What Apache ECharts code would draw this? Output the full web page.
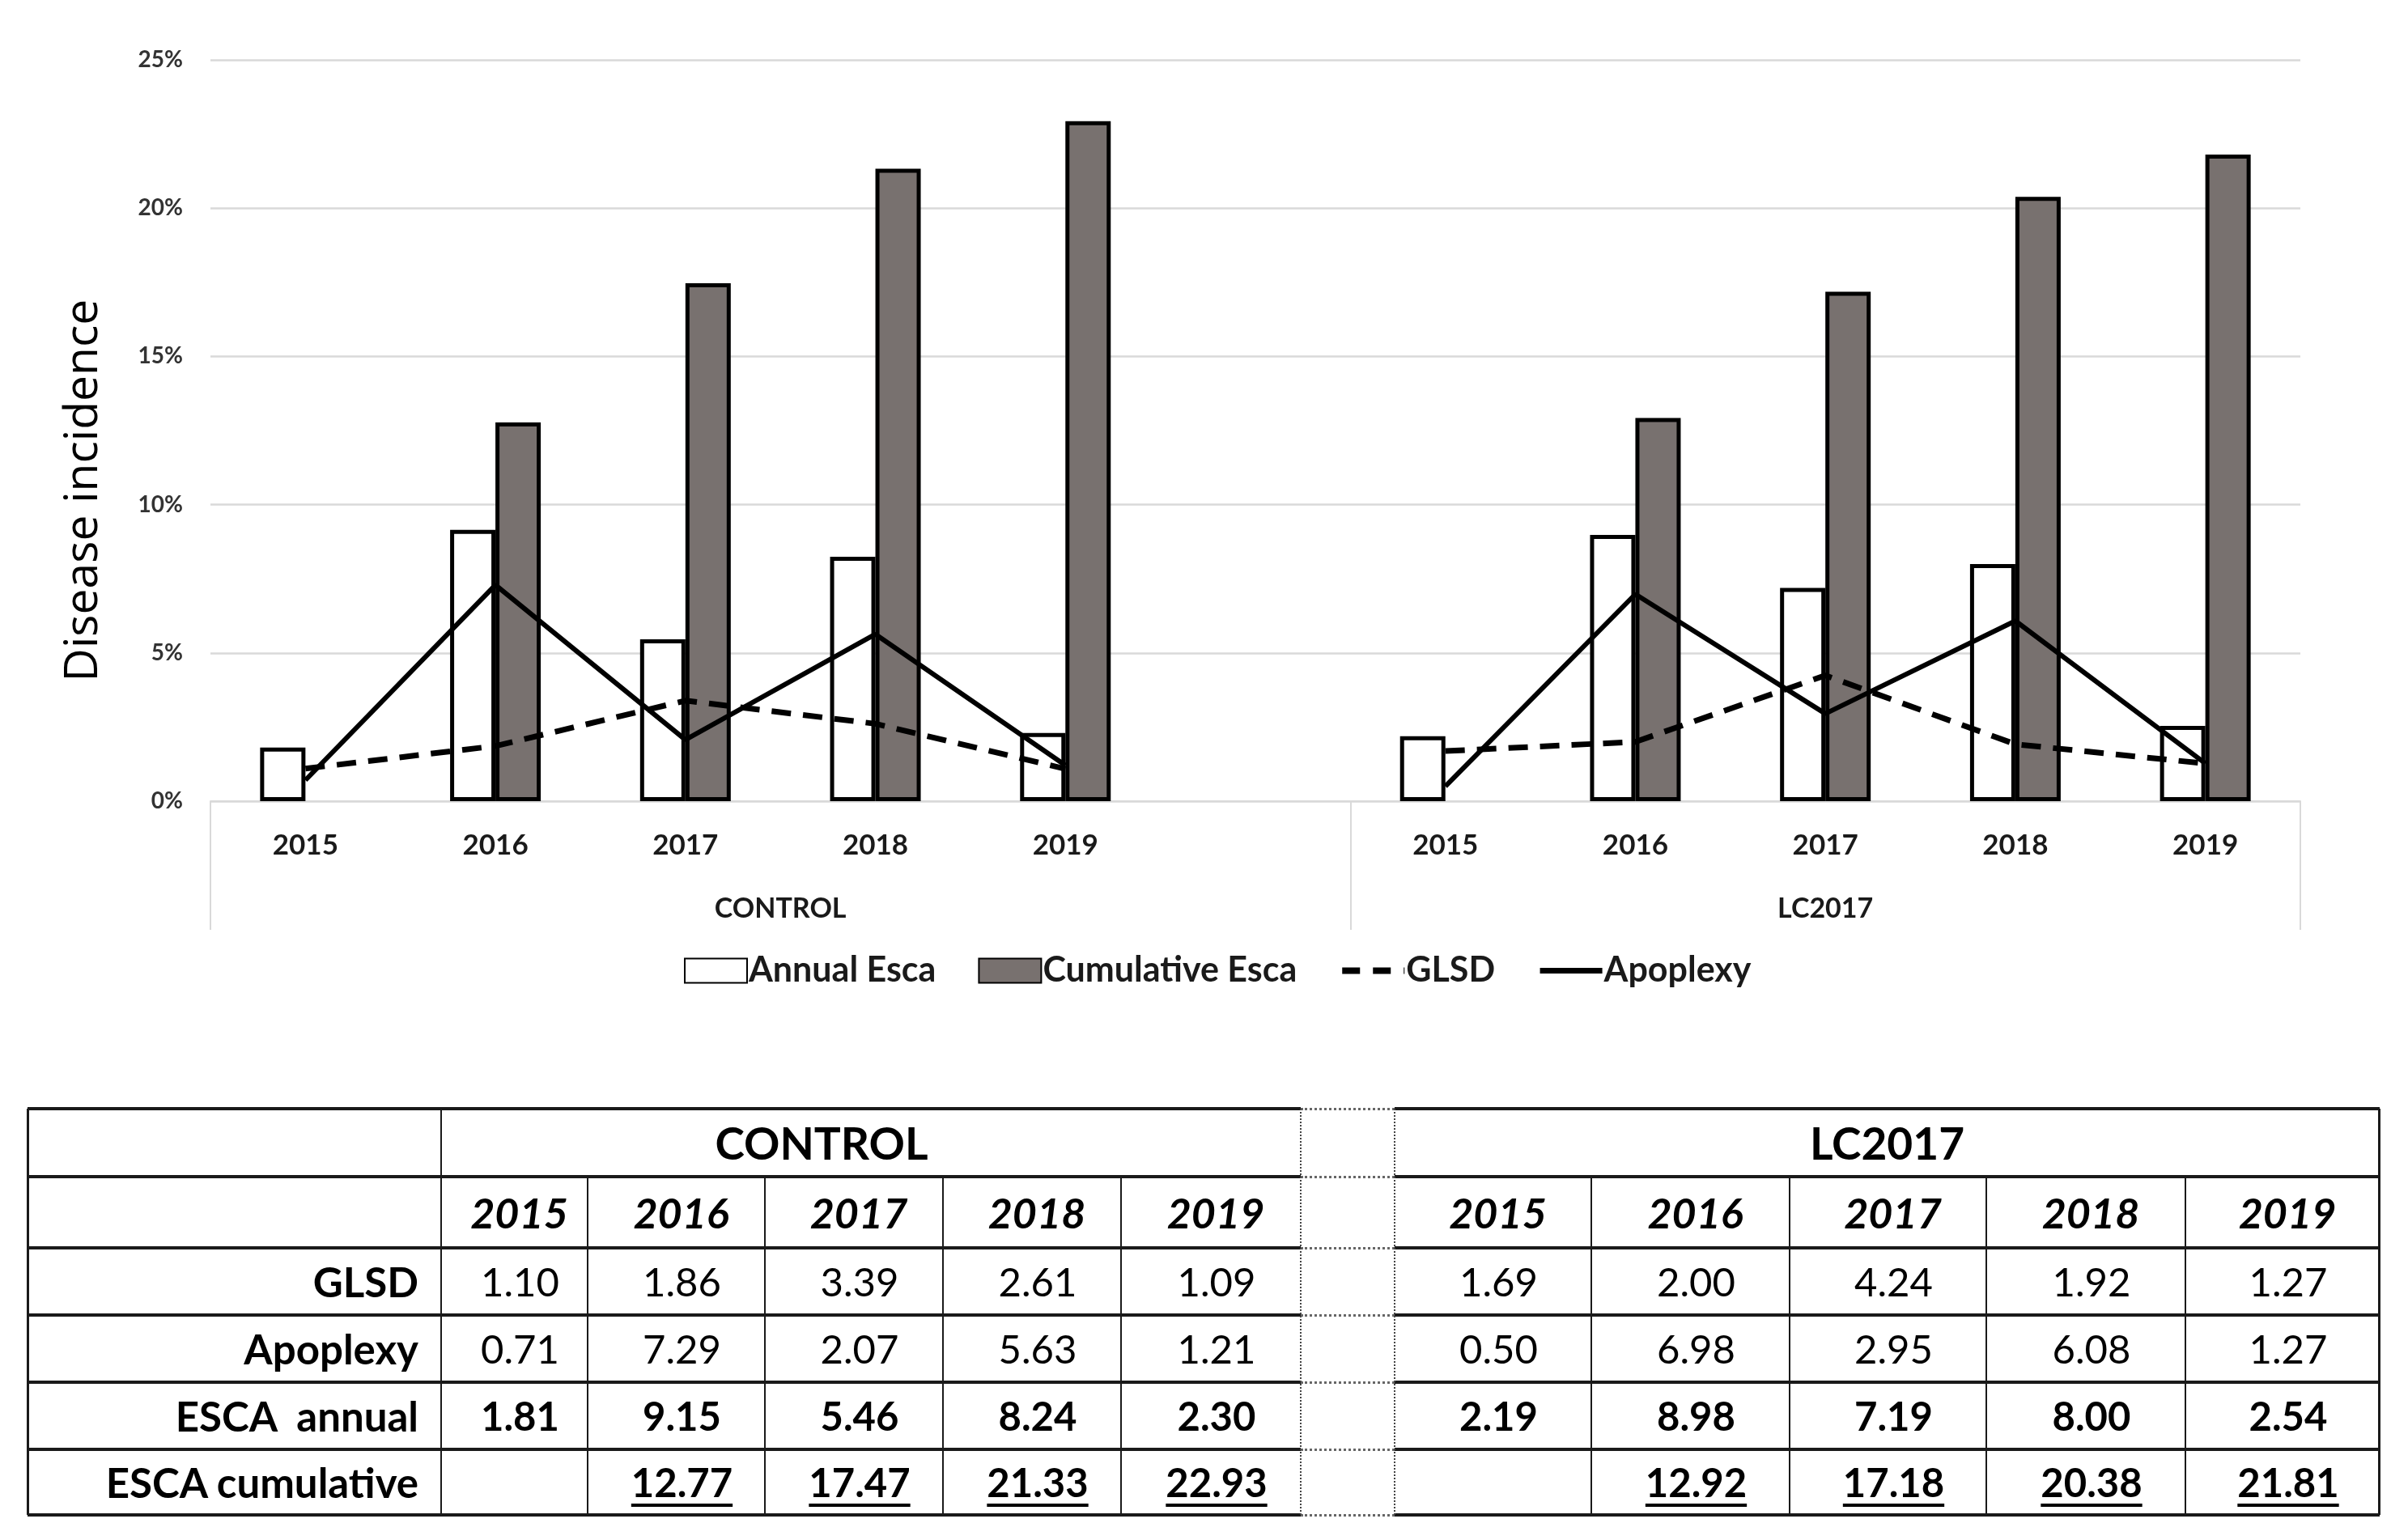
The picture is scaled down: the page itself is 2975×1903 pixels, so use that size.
<!DOCTYPE html>
<html>
<head>
<meta charset="utf-8">
<script src="https://cdn.jsdelivr.net/npm/echarts@6/dist/echarts.min.js"></script>
<style>
html,body{margin:0;padding:0;background:#fff;}
#chart{position:absolute;left:0;top:0;width:2975px;height:1903px;}
#tbl{position:absolute;left:0;top:0;width:2975px;height:1903px;font-family:Lato,"Open Sans",sans-serif;color:#000;}
.t{position:absolute;display:flex;align-items:center;white-space:pre;line-height:1;}
.ln{position:absolute;}
</style>
</head>
<body>
<div id="chart"></div>
<div id="tbl"></div>
<script>
// ---------- data ----------
const years = ['2015', '2016', '2017', '2018', '2019'];
const groups = ['CONTROL', 'LC2017'];
const yTicks = [0, 5, 10, 15, 20, 25];

const glsdControl = [1.10, 1.86, 3.39, 2.61, 1.09];
const apoplexyControl = [0.71, 7.29, 2.07, 5.63, 1.21];
const escaAnnualControl = [1.81, 9.15, 5.46, 8.24, 2.30];
const escaCumulativeControl = [null, 12.77, 17.47, 21.33, 22.93];

const glsdLC = [1.69, 2.00, 4.24, 1.92, 1.27];
const apoplexyLC = [0.50, 6.98, 2.95, 6.08, 1.27];
const escaAnnualLC = [2.19, 8.98, 7.19, 8.00, 2.54];
const escaCumulativeLC = [null, 12.92, 17.18, 20.38, 21.81];

const seriesNames = ['Annual Esca', 'Cumulative Esca', 'GLSD', 'Apoplexy'];
const rowLabels = ['GLSD', 'Apoplexy', 'ESCA  annual', 'ESCA cumulative'];
const yTitle = 'Disease incidence';

// ---------- chart ----------
const cats = years.concat([''], years);
const join = (a, b) => a.map(v => v == null ? '-' : v).concat(['-'], b.map(v => v == null ? '-' : v));

const FONT = 'Lato';
const noSymbol = {color: 'rgba(0,0,0,0)', borderColor: 'rgba(0,0,0,0)', borderWidth: 0};
const chart = echarts.init(document.getElementById('chart'), null, {renderer: 'canvas'});
chart.setOption({
  animation: false,
  backgroundColor: '#fff',
  grid: {left: 260, right: 2975 - 2842, top: 74, bottom: 1903 - 990, containLabel: false},
  legend: {
    left: 845, top: 1178, padding: 0,
    itemWidth: 77, itemHeight: 30, itemGap: 52,
    textStyle: {fontFamily: FONT, fontSize: 43, fontWeight: 'bold', color: '#1a1a1a', padding: [0, 0, 0, -3]},
    data: [
      {name: seriesNames[0], icon: 'rect'},
      {name: seriesNames[1], icon: 'rect'},
      {name: seriesNames[2], itemStyle: noSymbol, lineStyle: {color: '#000', width: 8, type: [22, 16]}},
      {name: seriesNames[3], itemStyle: noSymbol, lineStyle: {color: '#000', width: 7, type: 'solid'}}
    ]
  },
  graphic: [{
    type: 'text',
    x: 104, y: 606,
    rotation: Math.PI / 2,
    style: {text: yTitle, font: '400 57px "Open Sans"', fill: '#000', align: 'center', verticalAlign: 'middle'}
  }],
  xAxis: [{
    type: 'category',
    data: cats,
    boundaryGap: true,
    axisLine: {show: true, lineStyle: {color: '#d9d9d9', width: 2}},
    axisTick: {show: false},
    axisLabel: {fontFamily: FONT, fontSize: 35, fontWeight: 'bold', color: '#1a1a1a', margin: 37, interval: 0},
    splitLine: {show: false}
  }, {
    type: 'value',
    min: 0, max: 11,
    position: 'bottom',
    axisLine: {show: false},
    splitLine: {show: false},
    axisTick: {show: true, customValues: [0, 6, 11], length: 159, inside: false, lineStyle: {color: '#d9d9d9', width: 2}},
    axisLabel: {
      show: true, customValues: [3, 8.5], margin: 116,
      fontFamily: FONT, fontSize: 34, fontWeight: 'bold', color: '#1a1a1a',
      formatter: v => (v === 3 ? groups[0] : groups[1])
    }
  }],
  yAxis: {
    type: 'value',
    min: yTicks[0], max: yTicks[yTicks.length - 1], interval: 5,
    axisLine: {show: false},
    axisTick: {show: false},
    axisLabel: {formatter: '{value}%', fontFamily: FONT, fontSize: 28, fontWeight: 'bold', color: '#333', margin: 34},
    splitLine: {lineStyle: {color: '#d9d9d9', width: 2.5}}
  },
  series: [{
    name: seriesNames[0], type: 'bar', xAxisIndex: 0,
    data: join(escaAnnualControl, escaAnnualLC),
    barWidth: 56, barGap: '0%',
    itemStyle: {color: '#ffffff', borderColor: '#000', borderWidth: 5},
    z: 2
  }, {
    name: seriesNames[1], type: 'bar', xAxisIndex: 0,
    data: join(escaCumulativeControl, escaCumulativeLC),
    barWidth: 56, barGap: '0%',
    itemStyle: {color: '#78716f', borderColor: '#000', borderWidth: 5},
    z: 2
  }, {
    name: seriesNames[2], type: 'line', xAxisIndex: 0,
    data: join(glsdControl, glsdLC),
    symbol: 'none', connectNulls: false,
    lineStyle: {color: '#000', width: 7, type: [24, 15]},
    itemStyle: {color: '#000'},
    z: 5
  }, {
    name: seriesNames[3], type: 'line', xAxisIndex: 0,
    data: join(apoplexyControl, apoplexyLC),
    symbol: 'none', connectNulls: false,
    lineStyle: {color: '#000', width: 6},
    itemStyle: {color: '#000'},
    z: 5
  }]
});

// ---------- table ----------
const T = document.getElementById('tbl');
const colW = [511, 181, 219, 220, 220, 222, 116, 243, 245, 243, 246, 240];
const rowH = [84, 88, 83, 83, 83, 81];
const X0 = 34, Y0 = 1370;
const xs = [X0]; colW.forEach(w => xs.push(xs[xs.length - 1] + w));
const ys = [Y0]; rowH.forEach(h => ys.push(ys[ys.length - 1] + h));

function line(x, y, w, h, style) {
  const d = document.createElement('div');
  d.className = 'ln';
  d.style.left = x + 'px'; d.style.top = y + 'px';
  d.style.width = w + 'px'; d.style.height = h + 'px';
  Object.assign(d.style, style);
  T.appendChild(d);
}
function text(str, x1, x2, r, opts) {
  const d = document.createElement('div');
  d.className = 't';
  d.textContent = str;
  d.style.left = x1 + 'px'; d.style.width = (x2 - x1) + 'px';
  d.style.top = ys[r] + 'px'; d.style.height = rowH[r] + 'px';
  d.style.justifyContent = opts.align || 'center';
  d.style.fontSize = (opts.size || 47) + 'px';
  d.style.fontWeight = opts.bold ? '700' : '400';
  if (opts.italic) d.style.fontStyle = 'italic';
  if (opts.pr) d.style.paddingRight = opts.pr + 'px';
  if (opts.pl) d.style.paddingLeft = opts.pl + 'px';
  d.style.boxSizing = 'border-box';
  if (opts.underline) {
    d.style.textDecoration = 'underline';
    d.style.textDecorationThickness = '4px';
    d.style.textUnderlineOffset = '8px';
  }
  T.appendChild(d);
}

const gapL = xs[6], gapR = xs[7], xEnd = xs[12];
// horizontal lines
ys.forEach(y => {
  line(X0, y - 2, gapL - X0, 4, {background: '#1a1a1a'});
  line(gapR, y - 2, xEnd - gapR, 4, {background: '#1a1a1a'});
  line(gapL, y - 1, gapR - gapL, 0, {borderTop: '3px dotted #666'});
});
// vertical lines
const yTop = ys[0], yBot = ys[6];
line(X0 - 1, yTop, 0, yBot - yTop, {borderLeft: '3px solid #1a1a1a'});
line(xs[1] - 1, yTop, 0, yBot - yTop, {borderLeft: '2px solid #1a1a1a'});
[2, 3, 4, 5, 8, 9, 10, 11].forEach(i => line(xs[i] - 1, ys[1], 0, yBot - ys[1], {borderLeft: '2px solid #1a1a1a'}));
line(gapL - 1, yTop, 0, yBot - yTop, {borderLeft: '2px dotted #444'});
line(gapR - 1, yTop, 0, yBot - yTop, {borderLeft: '2px dotted #444'});
line(xEnd - 2, yTop, 0, yBot - yTop, {borderLeft: '3px solid #1a1a1a'});

// header texts
text(groups[0], xs[1], xs[6], 0, {bold: true, size: 55, pr: 122});
text(groups[1], xs[7], xs[12], 0, {bold: true, size: 55});
years.forEach((y, i) => {
  text(y, xs[1 + i], xs[2 + i], 1, {bold: true, italic: true, size: 52, pl: 12});
  text(y, xs[7 + i], xs[8 + i], 1, {bold: true, italic: true, size: 52, pl: 12});
});
// row labels
rowLabels.forEach((lab, r) => text(lab, xs[0], xs[1], r + 2, {bold: true, size: 51, align: 'flex-end', pr: 28}));
// values
const rowsC = [glsdControl, apoplexyControl, escaAnnualControl, escaCumulativeControl];
const rowsL = [glsdLC, apoplexyLC, escaAnnualLC, escaCumulativeLC];
const fmt = v => (v == null ? '' : v.toFixed(2));
rowsC.forEach((arr, r) => arr.forEach((v, i) => {
  const o = {size: 49, bold: r >= 2, underline: r === 3, pl: 14};
  text(fmt(v), xs[1 + i], xs[2 + i], r + 2, o);
}));
rowsL.forEach((arr, r) => arr.forEach((v, i) => {
  const o = {size: 49, bold: r >= 2, underline: r === 3, pl: 14};
  text(fmt(v), xs[7 + i], xs[8 + i], r + 2, o);
}));
</script>
</body>
</html>
